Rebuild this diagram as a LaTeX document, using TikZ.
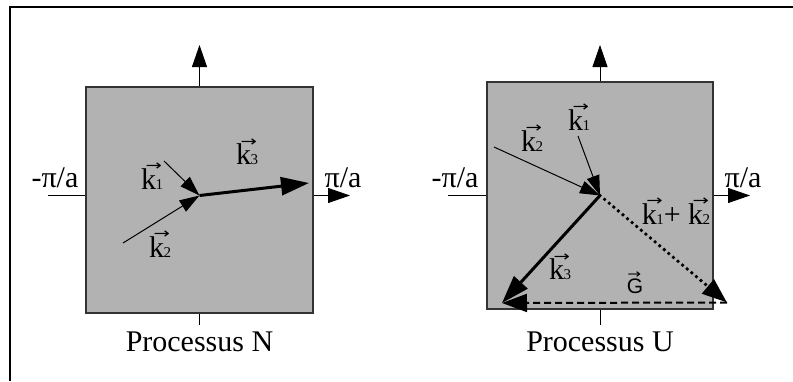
\documentclass[tikz,border=0pt]{standalone}
\usepackage{fontspec}
\setmainfont{Liberation Serif}
\newfontfamily\gfont{Liberation Sans}
\newfontfamily\arrowfont{DejaVu Sans}
\usetikzlibrary{arrows.meta}
\newcommand\vk[1]{\makebox[0pt][l]{\kern4.5pt\raisebox{18.5pt}{\arrowfont\fontsize{17}{17}\selectfont\scalebox{1.15}[0.85]{→}}}k\kern-0.5pt{\fontsize{15}{15}\selectfont #1}}
\newcommand\vG{\makebox[0pt][l]{\kern0.5pt\raisebox{15pt}{\arrowfont\fontsize{15}{15}\selectfont\scalebox{1.1}[0.85]{→}}}G}
\begin{document}
\begin{tikzpicture}[x=1pt,y=-1pt,
  zone/.style={fill=black!30,draw=black!80,line width=1.4pt},
  axis/.style={line width=0.9pt,-{Triangle[length=22pt,width=15pt]}},
  tick/.style={line width=0.9pt},
  thinvec/.style={line width=1pt,-{Triangle[length=20pt,width=13pt]}},
  thickvec/.style={line width=3pt,-{Triangle[length=28pt,width=18pt]}},
  dotvec/.style={line width=3.8pt,line cap=round,dash pattern=on 0pt off 6pt,-{Triangle[length=25pt,width=18pt,line cap=butt]}},
  dashvec/.style={line width=2pt,dash pattern=on 7pt off 4pt,-{Triangle[length=25pt,width=18pt]}},
  lab/.style={inner sep=0pt,font=\fontsize{30}{32}\selectfont},
  glab/.style={inner sep=0pt,font=\gfont\fontsize{21}{23}\selectfont}]
\useasboundingbox (0,0) rectangle (793,381);
% frame
\coordinate (ftl) at (10,7);
\coordinate (ftr) at (793,7);
\coordinate (fbl) at (10,381);
\draw[line width=1.5pt] (ftr) -- (ftl) -- (fbl);

% ---------- Processus N ----------
\coordinate (nO) at (199.5,195.5);
\node[zone,minimum width=227pt,minimum height=226pt,inner sep=0pt] (nbox) at (199.5,200) {};
\coordinate (nup) at (199.5,45);
\coordinate (nright) at (350,195.5);
\coordinate (nleft) at (48,195.5);
\coordinate (nbot) at (199.5,325);
\draw[axis] (nbox.north -| nO) -- (nup);
\draw[axis] (nbox.east |- nO) -- (nright);
\draw[tick] (nleft) -- (nbox.west |- nO);
\draw[tick] (nbox.south -| nO) -- (nbot);
\coordinate (nk1s) at (164,161);
\coordinate (nk2s) at (123,243);
\coordinate (nk3e) at (309,183);
\draw[thinvec] (nk1s) -- (nO);
\draw[thinvec] (nk2s) -- (nO);
\draw[thickvec] (nO) -- (nk3e);
\node[lab] (nl1) at (152,176) {\vk{1}};
\node[lab] (nl2) at (160,244) {\vk{2}};
\node[lab] (nl3) at (247,152) {\vk{3}};
\node[lab] (nmin) at (55,178) {-π/a};
\node[lab] (nmax) at (343,178) {π/a};
\node[lab] (ntitle) at (199.5,342) {Processus N};

% ---------- Processus U ----------
\coordinate (uO) at (600,195.5);
\node[zone,minimum width=226pt,minimum height=227pt,inner sep=0pt] (ubox) at (600,195.5) {};
\coordinate (uup) at (600,45);
\coordinate (uright) at (750,195.5);
\coordinate (uleft) at (448,195.5);
\coordinate (ubot) at (600,325);
\draw[axis] (ubox.north -| uO) -- (uup);
\draw[axis] (ubox.east |- uO) -- (uright);
\draw[tick] (uleft) -- (ubox.west |- uO);
\draw[tick] (ubox.south -| uO) -- (ubot);
\coordinate (uk1s) at (578,136);
\coordinate (uk2s) at (494,147);
\coordinate (uk3e) at (502,303);
\coordinate (uG) at (727,302.5);
\draw[thinvec] (uk1s) -- (uO);
\draw[thinvec] (uk2s) -- (uO);
\draw[dotvec] (uO) -- (uG);
\draw[dashvec] (uG) -- (uk3e);
\draw[thickvec] (uO) -- (uk3e);
\node[lab] (ul1) at (579,117) {\vk{1}};
\node[lab] (ul2) at (532,138) {\vk{2}};
\node[lab] (ul12) at (676,211) {\vk{1}+ \vk{2}};
\node[lab] (ul3) at (560,267) {\vk{3}};
\node[glab] (ulG) at (635,283) {\vG};
\node[lab] (umin) at (455,178) {-π/a};
\node[lab] (umax) at (743,178) {π/a};
\node[lab] (utitle) at (600,342) {Processus U};
\end{tikzpicture}
\end{document}
